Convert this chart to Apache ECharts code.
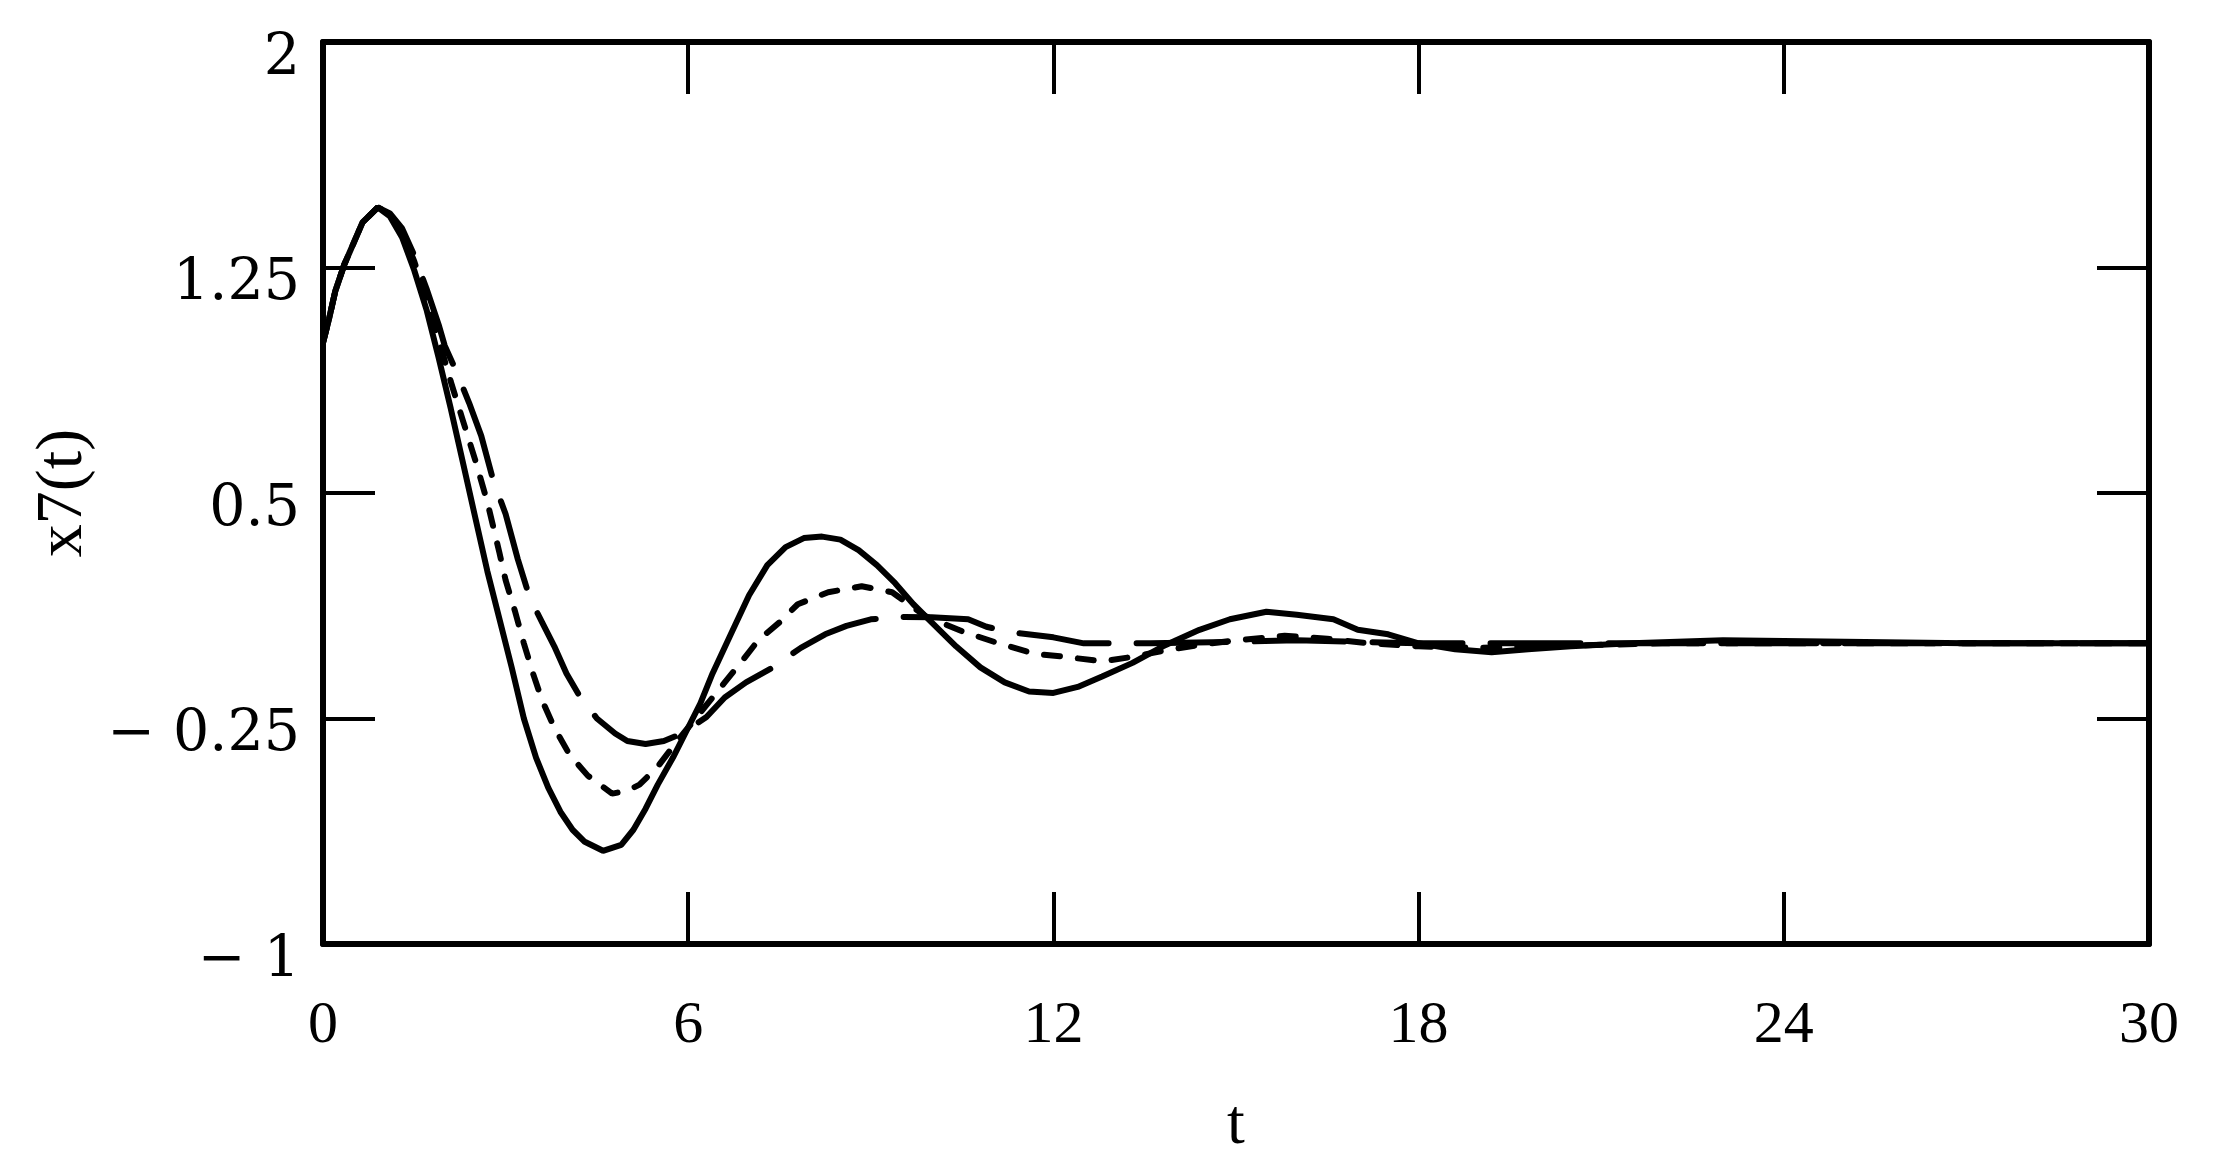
<!DOCTYPE html>
<html>
<head>
<meta charset="utf-8">
<script src="https://cdn.jsdelivr.net/npm/echarts@6/dist/echarts.min.js"></script>
<style>
  html, body { margin: 0; padding: 0; background: #fff; }
  #chart { width: 2215px; height: 1175px; }
</style>
</head>
<body>
<div id="chart"></div>
<script>
// ---- data ----
const xTicks = [0, 6, 12, 18, 24, 30];
const yTickValues = [-1, -0.25, 0.5, 1.25, 2];
const yTickLabels = ['\u2212 1', '\u2212 0.25', '0.5', '1.25', '2'];

// solid curve
const tSolid = [0, 0.1, 0.2, 0.35, 0.5, 0.65, 0.9, 1.1, 1.3, 1.5, 1.7, 1.9, 2.1, 2.3, 2.5, 2.7, 2.9, 3.1, 3.3, 3.5, 3.7, 3.9, 4.1, 4.3, 4.6, 4.9, 5.1, 5.3, 5.5, 5.75, 6.0, 6.2, 6.4, 6.7, 7.0, 7.3, 7.6, 7.9, 8.2, 8.5, 8.8, 9.1, 9.4, 9.7, 10.0, 10.4, 10.8, 11.2, 11.6, 12.0, 12.4, 12.8, 13.3, 13.8, 14.4, 14.9, 15.5, 16.0, 16.6, 17.0, 17.5, 18.0, 18.6, 19.2, 19.8, 20.5, 21.5, 23, 25, 27, 30];
const vSolid = [1.0, 1.08, 1.17, 1.26, 1.33, 1.40, 1.45, 1.42, 1.35, 1.24, 1.11, 0.95, 0.78, 0.60, 0.42, 0.24, 0.08, -0.08, -0.25, -0.38, -0.48, -0.56, -0.62, -0.66, -0.69, -0.67, -0.62, -0.55, -0.47, -0.38, -0.28, -0.20, -0.10, 0.03, 0.16, 0.26, 0.32, 0.35, 0.355, 0.345, 0.31, 0.26, 0.20, 0.13, 0.07, -0.01, -0.08, -0.13, -0.16, -0.165, -0.145, -0.11, -0.065, -0.01, 0.045, 0.08, 0.105, 0.095, 0.08, 0.045, 0.03, 0.0, -0.02, -0.03, -0.02, -0.01, 0.0, 0.01, 0.005, 0.0, 0.0];

// short-dash curve
const tShort = [0, 0.1, 0.2, 0.35, 0.5, 0.65, 0.9, 1.1, 1.3, 1.5, 1.7, 1.9, 2.1, 2.3, 2.5, 2.7, 2.9, 3.0, 3.15, 3.3, 3.45, 3.6, 3.8, 4.05, 4.35, 4.75, 5.0, 5.2, 5.5, 5.8, 6.2, 6.6, 6.9, 7.15, 7.5, 7.8, 8.3, 8.85, 9.35, 9.9, 10.5, 11.1, 11.7, 12.2, 12.8, 13.3, 13.8, 14.4, 15.0, 15.8, 16.5, 17.2, 18, 19, 20, 22, 30];
const vShort = [1.0, 1.08, 1.17, 1.26, 1.33, 1.40, 1.45, 1.43, 1.37, 1.27, 1.15, 1.01, 0.87, 0.74, 0.61, 0.47, 0.30, 0.21, 0.11, 0.0, -0.10, -0.19, -0.28, -0.37, -0.44, -0.50, -0.49, -0.47, -0.41, -0.33, -0.23, -0.13, -0.055, 0.01, 0.07, 0.13, 0.17, 0.19, 0.17, 0.09, 0.04, 0.0, -0.035, -0.045, -0.06, -0.045, -0.025, -0.005, 0.01, 0.025, 0.015, 0.0, -0.01, -0.015, -0.01, 0.0, 0.0];

// long-dash curve
const tLong = [0, 0.1, 0.2, 0.35, 0.5, 0.65, 0.9, 1.1, 1.3, 1.5, 1.7, 1.9, 2.0, 2.2, 2.4, 2.6, 2.8, 3.0, 3.2, 3.4, 3.6, 3.8, 4.0, 4.2, 4.5, 4.8, 5.0, 5.3, 5.6, 5.9, 6.3, 6.6, 6.95, 7.35, 7.85, 8.25, 8.6, 9.0, 9.5, 10.0, 10.6, 10.9, 11.3, 12.0, 12.5, 13.6, 15, 16, 17, 18, 30];
const vLong = [1.0, 1.08, 1.17, 1.26, 1.33, 1.40, 1.45, 1.43, 1.38, 1.29, 1.18, 1.06, 0.99, 0.90, 0.80, 0.69, 0.54, 0.43, 0.28, 0.15, 0.07, -0.01, -0.10, -0.17, -0.25, -0.30, -0.325, -0.335, -0.325, -0.30, -0.245, -0.18, -0.13, -0.085, -0.015, 0.03, 0.058, 0.08, 0.088, 0.087, 0.08, 0.055, 0.037, 0.02, 0.0, 0.0, 0.005, 0.01, 0.005, 0.0, 0.0];

function pairs(ts, vs) { return ts.map((t, i) => [t, vs[i]]); }

const chart = echarts.init(document.getElementById('chart'), null, { renderer: 'canvas' });
const black = '#000';
const axisLineStyle = { color: black, width: 6 };
const tickStyle = { color: black, width: 4 };

const option = {
  backgroundColor: '#fff',
  animation: false,
  grid: { left: 323, right: 66, top: 42, bottom: 231, containLabel: false },
  xAxis: [
    {
      type: 'value', position: 'bottom', min: 0, max: 30, interval: 6,
      axisLine: { show: true, onZero: false, lineStyle: axisLineStyle },
      axisTick: { show: true, inside: true, length: 52, lineStyle: tickStyle, customValues: xTicks },
      axisLabel: { show: true, margin: 52, fontFamily: 'Liberation Serif', fontSize: 60, color: black, customValues: xTicks },
      splitLine: { show: false },
      name: 't', nameLocation: 'middle', nameGap: 150,
      nameTextStyle: { fontFamily: 'Liberation Serif', fontSize: 64, color: black }
    },
    {
      type: 'value', position: 'top', min: 0, max: 30, interval: 6,
      axisLine: { show: true, onZero: false, lineStyle: axisLineStyle },
      axisTick: { show: true, inside: true, length: 52, lineStyle: tickStyle, customValues: xTicks },
      axisLabel: { show: false },
      splitLine: { show: false }
    }
  ],
  yAxis: [
    {
      type: 'value', position: 'left', min: -1, max: 2,
      axisLine: { show: true, onZero: false, lineStyle: axisLineStyle },
      axisTick: { show: true, inside: true, length: 52, lineStyle: tickStyle, customValues: yTickValues },
      axisLabel: {
        show: true, margin: 23, color: black,
        customValues: yTickValues,
        formatter: function (v) {
          const i = yTickValues.findIndex(x => Math.abs(x - v) < 1e-9);
          return i >= 0 ? '{a|' + yTickLabels[i] + '}' : '';
        },
        rich: {
          a: { fontFamily: 'DejaVu Serif', fontSize: 57, color: black, padding: [34, 0, 0, 0] }
        }
      },
      splitLine: { show: false },
      name: 'x7(t)', nameLocation: 'middle', nameGap: 225, nameRotate: 90,
      nameTextStyle: { fontFamily: 'Liberation Serif', fontSize: 66, color: black }
    },
    {
      type: 'value', position: 'right', min: -1, max: 2,
      axisLine: { show: true, onZero: false, lineStyle: axisLineStyle },
      axisTick: { show: true, inside: true, length: 52, lineStyle: tickStyle, customValues: yTickValues },
      axisLabel: { show: false },
      splitLine: { show: false }
    }
  ],
  series: [
    {
      type: 'line', name: 'solid', data: pairs(tSolid, vSolid),
      showSymbol: false, smooth: false,
      lineStyle: { color: black, width: 6, type: 'solid' }
    },
    {
      type: 'line', name: 'short', data: pairs(tShort, vShort),
      showSymbol: false, smooth: false,
      lineStyle: { color: black, width: 6, type: [16, 18], cap: 'round' }
    },
    {
      type: 'line', name: 'long', data: pairs(tLong, vLong),
      showSymbol: false, smooth: false,
      lineStyle: { color: black, width: 6, type: [90, 28], cap: 'round' }
    }
  ]
};
chart.setOption(option);
</script>
</body>
</html>
